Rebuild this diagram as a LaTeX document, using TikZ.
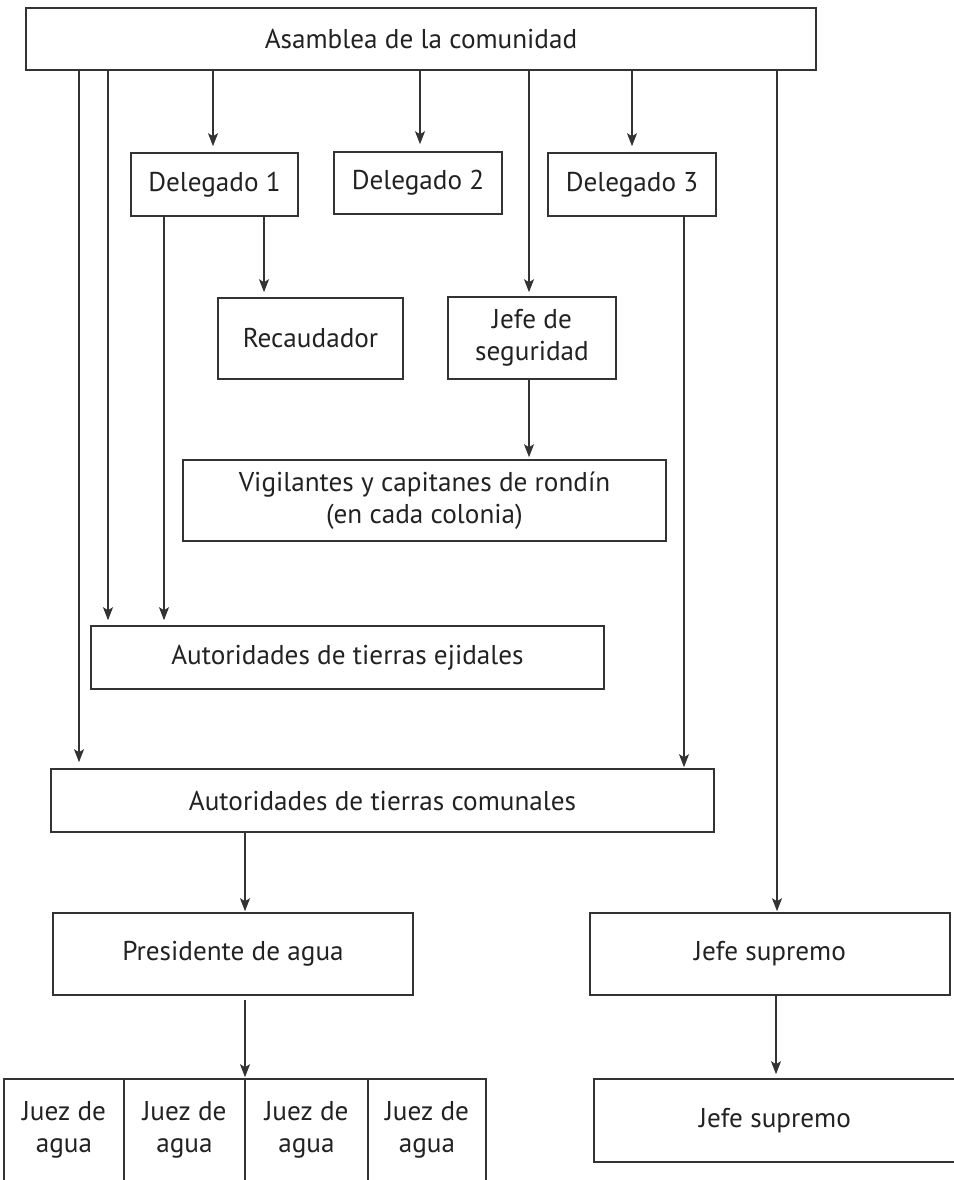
\documentclass[tikz,border=0pt]{standalone}
\usepackage{fontspec}
\setmainfont{PT Sans}
\usetikzlibrary{arrows.meta}
\definecolor{ln}{HTML}{333333}
\definecolor{tx}{HTML}{222222}
\tikzset{
  box/.style={draw=ln, line width=1.6pt, inner sep=0pt, align=center, text=tx,
    font=\fontsize{27.2}{31.5}\selectfont},
  arr/.style={draw=ln, line width=1.3pt, -{Stealth[length=13pt,width=10pt,inset=3pt]}},
}
\begin{document}
\begin{tikzpicture}[x=1pt,y=-1pt]
\useasboundingbox (0,0) rectangle (953,1180);
% boxes
\node[box, minimum width=790pt, minimum height=62pt] (asam) at (421,39) {Asamblea de la comunidad};
\node[box, minimum width=167pt, minimum height=63pt] (d1) at (214.5,184.5) {Delegado 1};
\node[box, minimum width=168pt, minimum height=62pt] (d2) at (418,183) {Delegado 2};
\node[box, minimum width=168pt, minimum height=63pt] (d3) at (632,184.5) {Delegado 3};
\node[box, minimum width=185pt, minimum height=81pt] (rec) at (310.5,338.5) {Recaudador};
\node[box, minimum width=168pt, minimum height=82pt] (jseg) at (532,338) {Jefe de\\seguridad};
\node[box, minimum width=483pt, minimum height=81pt] (vig) at (424.5,500.5) {Vigilantes y capitanes de rondín\\(en cada colonia)};
\node[box, minimum width=513pt, minimum height=63pt] (ej) at (347.5,657.5) {Autoridades de tierras ejidales};
\node[box, minimum width=663pt, minimum height=63pt] (com) at (382.5,800.5) {Autoridades de tierras comunales};
\node[box, minimum width=360pt, minimum height=82pt] (pres) at (233,954) {Presidente de agua};
\node[box, minimum width=360pt, minimum height=82pt] (js1) at (770,954) {Jefe supremo};
\node[box, minimum width=370pt, minimum height=83pt] (js2) at (779,1120.5) {\hspace*{-8pt}Jefe supremo};
\node[box, minimum width=120pt, minimum height=102pt] (j1) at (64,1130) {Juez de\\agua};
\node[box, minimum width=121pt, minimum height=102pt] (j2) at (184.5,1130) {Juez de\\agua};
\node[box, minimum width=123pt, minimum height=102pt] (j3) at (306.5,1130) {Juez de\\agua};
\node[box, minimum width=118pt, minimum height=102pt] (j4) at (427,1130) {Juez de\\agua};
% connector columns
\path (79,0) coordinate (xa) (108,0) coordinate (xb) (164,0) coordinate (xc)
      (213,0) coordinate (xd) (264,0) coordinate (xe) (420,0) coordinate (xf)
      (529,0) coordinate (xg) (632,0) coordinate (xh) (684,0) coordinate (xi)
      (777,0) coordinate (xj) (245,0) coordinate (xk) (776,0) coordinate (xl);
% connectors
\draw[arr, shorten >=6pt] (asam.south -| xa) -- (com.north -| xa);
\draw[arr, shorten >=5pt] (asam.south -| xb) -- (ej.north -| xb);
\draw[arr, shorten >=5pt] (d1.south -| xc) -- (ej.north -| xc);
\draw[arr, shorten >=6pt] (asam.south -| xd) -- (d1.north -| xd);
\draw[arr, shorten >=5pt] (d1.south -| xe) -- (rec.north -| xe);
\draw[arr, shorten >=7pt] (asam.south -| xf) -- (d2.north -| xf);
\draw[arr, shorten >=4pt] (asam.south -| xg) -- (jseg.north -| xg);
\draw[arr, shorten >=2pt] (jseg.south -| xg) -- (vig.north -| xg);
\draw[arr, shorten >=6pt] (asam.south -| xh) -- (d3.north -| xh);
\draw[arr, shorten >=1pt] (d3.south -| xi) -- (com.north -| xi);
\draw[arr, shorten >=1pt] (asam.south -| xj) -- (js1.north -| xj);
\draw[arr, shorten >=1pt] (com.south -| xk) -- (pres.north -| xk);
\draw[arr, shorten <=4pt, shorten >=1pt] (pres.south -| xk) -- (j2.north east -| xk);
\draw[arr, shorten >=4pt] (js1.south -| xl) -- (js2.north -| xl);
\end{tikzpicture}
\end{document}
